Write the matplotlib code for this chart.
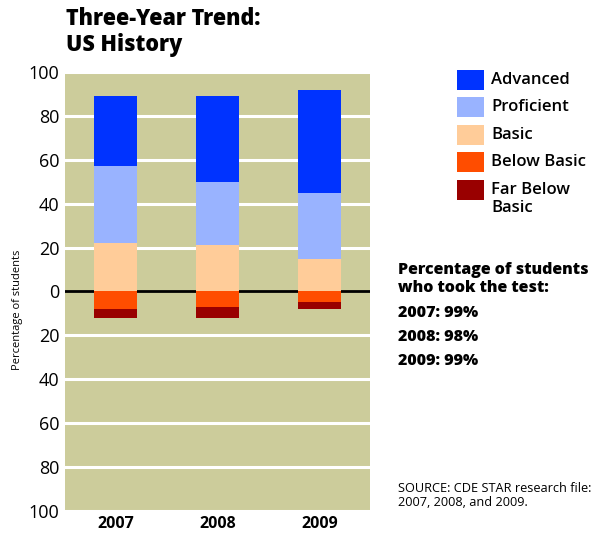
import matplotlib.pyplot as plt
from matplotlib.patches import Rectangle
import numpy as np

plt.rcParams['font.family'] = ['Open Sans', 'DejaVu Sans']

years = ["2007", "2008", "2009"]
advanced = np.array([32, 39, 47])
proficient = np.array([35, 29, 30])
basic = np.array([22, 21, 15])
below_basic = np.array([8, 7, 5])
far_below_basic = np.array([4, 5, 3])
took_test = ["99%", "98%", "99%"]

levels = ["Advanced", "Proficient", "Basic", "Below Basic", "Far Below\nBasic"]
colors = ["#0033ff", "#99b3ff", "#ffcc99", "#ff4d00", "#990000"]

fig = plt.figure(figsize=(5.99, 5.35), dpi=100)
ax = fig.add_axes([0.1085, 0.045, 0.5095, 0.8205])
ax.set_facecolor("#cccc9b")

x = np.arange(len(years))
w = 0.42
# positive side
ax.bar(x, basic, w, color=colors[2], zorder=3)
ax.bar(x, proficient, w, bottom=basic, color=colors[1], zorder=3)
ax.bar(x, advanced, w, bottom=basic + proficient, color=colors[0], zorder=3)
# negative side
ax.bar(x, -below_basic, w, color=colors[3], zorder=3)
ax.bar(x, -far_below_basic, w, bottom=-below_basic, color=colors[4], zorder=3)

ax.axhline(0, color="black", lw=2, zorder=2)
for g in range(-100, 101, 20):
    if g != 0:
        ax.axhline(g, color="white", lw=2.2, zorder=1)

ax.set_xlim(-0.5, 2.5)
ax.set_ylim(-100, 100)
ticks = np.arange(-100, 101, 20)
ax.set_yticks(ticks)
ax.set_yticklabels([str(abs(t)) for t in ticks], fontsize=13)
ax.set_xticks(x)
ax.set_xticklabels(years, fontsize=11.5, fontweight="bold")
ax.tick_params(length=0, pad=4)
for s in ax.spines.values():
    s.set_visible(False)

fig.text(18 / 599, 1 - 310 / 535, "Percentage of students", rotation=90,
         ha="center", va="center", fontsize=8)

fig.text(66 / 599, 1 - 7 / 535, "Three-Year Trend:\nUS History", ha="left", va="top",
         fontsize=15.5, fontweight="heavy", linespacing=1.1)

# legend
ly = [80, 107, 135, 162, 190]
for lab, col, yy in zip(levels, colors, ly):
    fig.add_artist(Rectangle((457 / 599, 1 - (yy + 10) / 535), 27 / 599, 20 / 535,
                             facecolor=col, edgecolor="none", transform=fig.transFigure))
    fig.text(491 / 599, 1 - (yy - 8) / 535, lab, ha="left", va="top", fontsize=12,
             fontweight="semibold", linespacing=1.2)

fig.text(398 / 599, 1 - 262 / 535, "Percentage of students\nwho took the test:",
         ha="left", va="top", fontsize=11.5, fontweight="heavy", linespacing=1.15)
for i, (yr, p) in enumerate(zip(years, took_test)):
    fig.text(398 / 599, 1 - (305 + 24 * i) / 535, f"{yr}: {p}", ha="left", va="top",
             fontsize=11.5, fontweight="heavy")

fig.text(398 / 599, 1 - 482 / 535, "SOURCE: CDE STAR research file:\n2007, 2008, and 2009.",
         ha="left", va="top", fontsize=9.2, linespacing=1.15)

fig.savefig("out.png", dpi=100)
